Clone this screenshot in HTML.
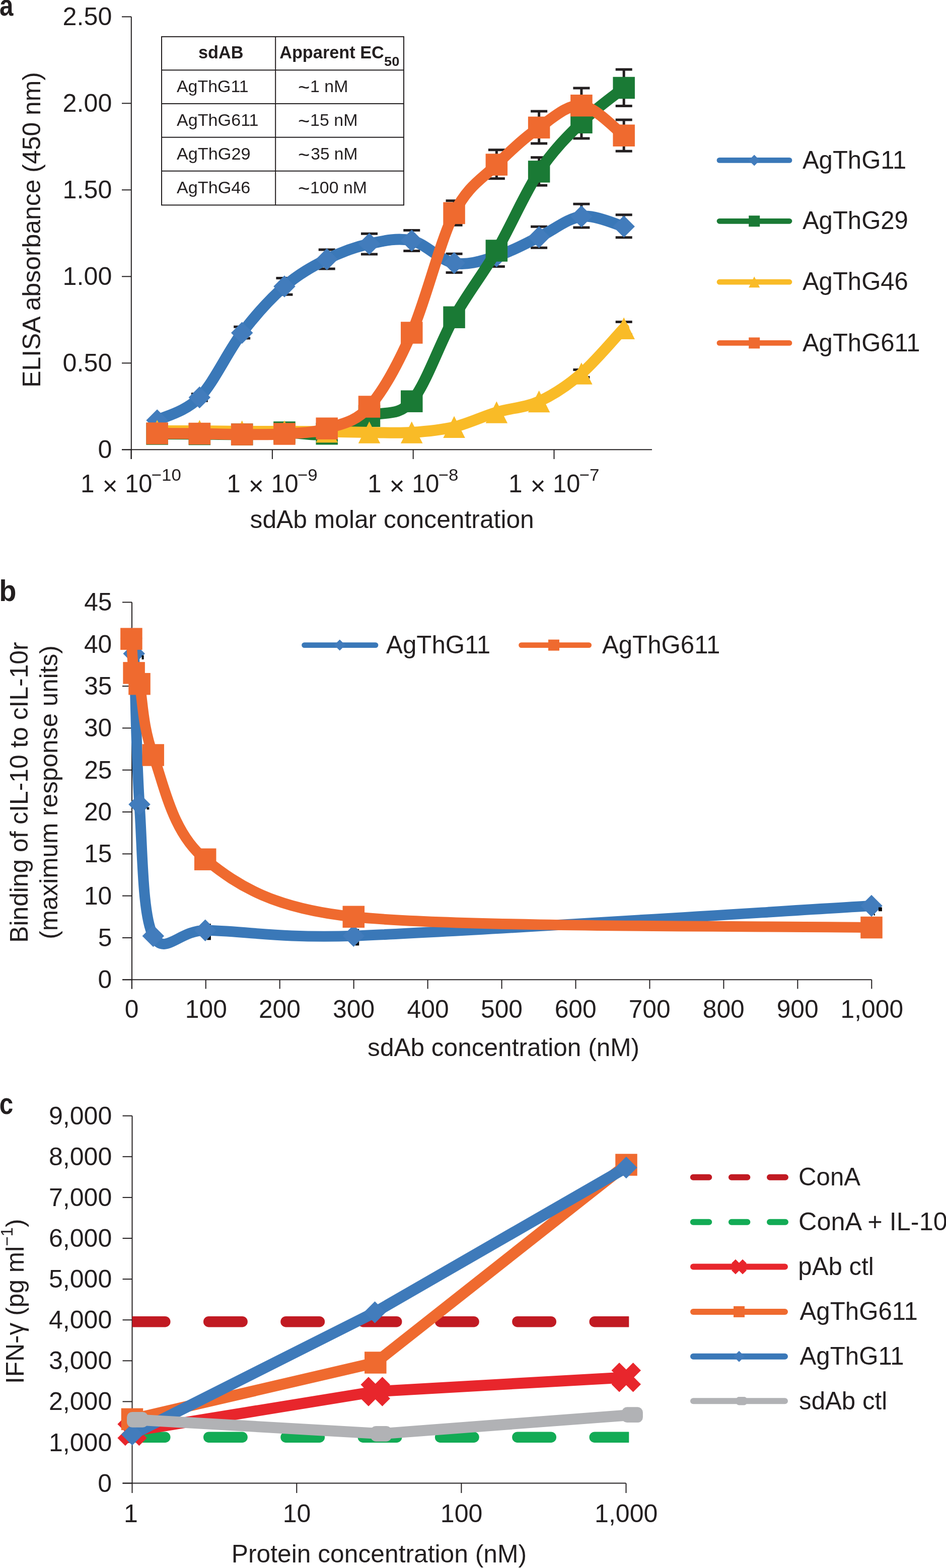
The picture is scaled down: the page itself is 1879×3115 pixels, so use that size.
<!DOCTYPE html><html><head><meta charset="utf-8"><title>Figure</title><style>html,body{margin:0;padding:0;background:#fff;width:1879px;height:3115px;overflow:hidden}svg{display:block}</style></head><body>
<svg width="1879" height="3115" viewBox="0 0 1879 3115" font-family='"Liberation Sans", Arial, Helvetica, sans-serif' fill="#231f20">
<rect width="1879" height="3115" fill="#fff"/>
<text x="-0.88" y="31" font-size="59" font-weight="bold" textLength="27.44" lengthAdjust="spacingAndGlyphs">a</text>
<line x1="260.8" y1="33.3" x2="260.8" y2="912" stroke="#231f20" stroke-width="2"/>
<line x1="242" y1="893.3" x2="1295" y2="893.3" stroke="#231f20" stroke-width="2"/>
<line x1="242" y1="893.3" x2="260.8" y2="893.3" stroke="#231f20" stroke-width="2"/>
<text x="194.47" y="910.3" font-size="49.5" textLength="27.94" lengthAdjust="spacingAndGlyphs">0</text>
<line x1="242" y1="721.3" x2="260.8" y2="721.3" stroke="#231f20" stroke-width="2"/>
<text x="124.64" y="738.3" font-size="49.5" textLength="97.79" lengthAdjust="spacingAndGlyphs">0.50</text>
<line x1="242" y1="549.3" x2="260.8" y2="549.3" stroke="#231f20" stroke-width="2"/>
<text x="124.64" y="566.3" font-size="49.5" textLength="97.79" lengthAdjust="spacingAndGlyphs">1.00</text>
<line x1="242" y1="377.3" x2="260.8" y2="377.3" stroke="#231f20" stroke-width="2"/>
<text x="124.64" y="394.3" font-size="49.5" textLength="97.79" lengthAdjust="spacingAndGlyphs">1.50</text>
<line x1="242" y1="205.3" x2="260.8" y2="205.3" stroke="#231f20" stroke-width="2"/>
<text x="124.64" y="222.3" font-size="49.5" textLength="97.79" lengthAdjust="spacingAndGlyphs">2.00</text>
<line x1="242" y1="33.3" x2="260.8" y2="33.3" stroke="#231f20" stroke-width="2"/>
<text x="124.64" y="50.3" font-size="49.5" textLength="97.79" lengthAdjust="spacingAndGlyphs">2.50</text>
<line x1="260.5" y1="893.3" x2="260.5" y2="912" stroke="#231f20" stroke-width="2"/>
<text x="159.99" y="978" font-size="49.5" textLength="27.53" lengthAdjust="spacingAndGlyphs">1</text>
<text x="203.5" y="982.7" font-size="51.7" textLength="30.19" lengthAdjust="spacingAndGlyphs">×</text>
<text x="248.18" y="978" font-size="49.5" textLength="54.24" lengthAdjust="spacingAndGlyphs">10</text>
<text x="300.72" y="955.4" font-size="34" textLength="59.17" lengthAdjust="spacingAndGlyphs">−10</text>
<line x1="540.9" y1="893.3" x2="540.9" y2="912" stroke="#231f20" stroke-width="2"/>
<text x="450.24" y="978" font-size="49.5" textLength="27.53" lengthAdjust="spacingAndGlyphs">1</text>
<text x="493.75" y="982.7" font-size="51.7" textLength="30.19" lengthAdjust="spacingAndGlyphs">×</text>
<text x="538.44" y="978" font-size="49.5" textLength="54.24" lengthAdjust="spacingAndGlyphs">10</text>
<text x="590.98" y="955.4" font-size="34" textLength="39.77" lengthAdjust="spacingAndGlyphs">−9</text>
<line x1="820.7" y1="893.3" x2="820.7" y2="912" stroke="#231f20" stroke-width="2"/>
<text x="729.96" y="978" font-size="49.5" textLength="27.53" lengthAdjust="spacingAndGlyphs">1</text>
<text x="773.46" y="982.7" font-size="51.7" textLength="30.19" lengthAdjust="spacingAndGlyphs">×</text>
<text x="818.15" y="978" font-size="49.5" textLength="54.24" lengthAdjust="spacingAndGlyphs">10</text>
<text x="870.69" y="955.4" font-size="34" textLength="39.77" lengthAdjust="spacingAndGlyphs">−8</text>
<line x1="1100.5" y1="893.3" x2="1100.5" y2="912" stroke="#231f20" stroke-width="2"/>
<text x="1009.93" y="978" font-size="49.5" textLength="27.53" lengthAdjust="spacingAndGlyphs">1</text>
<text x="1053.44" y="982.7" font-size="51.7" textLength="30.19" lengthAdjust="spacingAndGlyphs">×</text>
<text x="1098.12" y="978" font-size="49.5" textLength="54.24" lengthAdjust="spacingAndGlyphs">10</text>
<text x="1150.67" y="955.4" font-size="34" textLength="39.77" lengthAdjust="spacingAndGlyphs">−7</text>
<text x="496.51" y="1049.2" font-size="49.5" textLength="564.31" lengthAdjust="spacingAndGlyphs">sdAb molar concentration</text>
<text transform="translate(79.6,0) rotate(-90)" x="-769.89" y="0" font-size="49.5" textLength="626.86" lengthAdjust="spacingAndGlyphs">ELISA absorbance (450 nm)</text>
<rect x="321" y="72.9" width="481" height="334.5" fill="none" stroke="#231f20" stroke-width="2"/>
<line x1="547.2" y1="72.9" x2="547.2" y2="407.4" stroke="#231f20" stroke-width="2"/>
<line x1="321" y1="139.2" x2="802" y2="139.2" stroke="#231f20" stroke-width="2"/>
<line x1="321" y1="206.1" x2="802" y2="206.1" stroke="#231f20" stroke-width="2"/>
<line x1="321" y1="272.7" x2="802" y2="272.7" stroke="#231f20" stroke-width="2"/>
<line x1="321" y1="339.8" x2="802" y2="339.8" stroke="#231f20" stroke-width="2"/>
<text x="394" y="116" font-size="34.5" font-weight="bold" textLength="89.59" lengthAdjust="spacingAndGlyphs">sdAB</text>
<text x="555.14" y="115.9" font-size="34.5" font-weight="bold" textLength="207.76" lengthAdjust="spacingAndGlyphs">Apparent EC</text>
<text x="762.98" y="130.8" font-size="26" font-weight="bold" textLength="30.38" lengthAdjust="spacingAndGlyphs">50</text>
<text x="350.9" y="183.3" font-size="33.2" textLength="142.77" lengthAdjust="spacingAndGlyphs">AgThG11</text>
<text x="592.1" y="187.3" font-size="40" textLength="23.36" lengthAdjust="spacingAndGlyphs">~</text>
<text x="616.06" y="183.3" font-size="33.2" textLength="75.36" lengthAdjust="spacingAndGlyphs">1 nM</text>
<text x="350.9" y="249.95" font-size="33.2" textLength="162.72" lengthAdjust="spacingAndGlyphs">AgThG611</text>
<text x="592.1" y="253.95" font-size="40" textLength="23.36" lengthAdjust="spacingAndGlyphs">~</text>
<text x="616.05" y="249.95" font-size="33.2" textLength="94.41" lengthAdjust="spacingAndGlyphs">15 nM</text>
<text x="350.9" y="316.75" font-size="33.2" textLength="146.66" lengthAdjust="spacingAndGlyphs">AgThG29</text>
<text x="592.1" y="320.75" font-size="40" textLength="23.36" lengthAdjust="spacingAndGlyphs">~</text>
<text x="617.26" y="316.75" font-size="33.2" textLength="93.17" lengthAdjust="spacingAndGlyphs">35 nM</text>
<text x="350.9" y="384.1" font-size="33.2" textLength="146.48" lengthAdjust="spacingAndGlyphs">AgThG46</text>
<text x="592.1" y="388.1" font-size="40" textLength="23.36" lengthAdjust="spacingAndGlyphs">~</text>
<text x="616.06" y="384.1" font-size="33.2" textLength="112.86" lengthAdjust="spacingAndGlyphs">100 nM</text>
<line x1="1429" y1="318.4" x2="1568" y2="318.4" stroke="#3a78b8" stroke-width="10.7" stroke-linecap="round"/>
<path d="M1498.2,307.4 L1509.2,318.4 L1498.2,329.4 L1487.2,318.4 Z" fill="#427cbc"/>
<text x="1593.9" y="334.5" font-size="49.5" textLength="206.33" lengthAdjust="spacingAndGlyphs">AgThG11</text>
<line x1="1429" y1="439.3" x2="1568" y2="439.3" stroke="#1a7a35" stroke-width="10.7" stroke-linecap="round"/>
<rect x="1487.2" y="428.3" width="22" height="22" fill="#1a7a35"/>
<text x="1593.9" y="455.4" font-size="49.5" textLength="209.97" lengthAdjust="spacingAndGlyphs">AgThG29</text>
<line x1="1429" y1="560.2" x2="1568" y2="560.2" stroke="#f9bb27" stroke-width="10.7" stroke-linecap="round"/>
<path d="M1498.2,549.2 L1509.2,571.2 L1487.2,571.2 Z" fill="#f9bb27"/>
<text x="1593.9" y="576.3" font-size="49.5" textLength="209.97" lengthAdjust="spacingAndGlyphs">AgThG46</text>
<line x1="1429" y1="681.4" x2="1568" y2="681.4" stroke="#ef6a2f" stroke-width="10.7" stroke-linecap="round"/>
<rect x="1487.2" y="670.4" width="22" height="22" fill="#ef6a2f"/>
<text x="1593.9" y="697.5" font-size="49.5" textLength="233.61" lengthAdjust="spacingAndGlyphs">AgThG611</text>
<path d="M396.38,782.6 V796.3 M379.88,782.6 H412.88 M379.88,796.3 H412.88" stroke="#231f20" stroke-width="5" fill="none"/>
<path d="M480.66,649.2 V672 M464.16,649.2 H497.16 M464.16,672 H497.16" stroke="#231f20" stroke-width="5" fill="none"/>
<path d="M564.94,552.6 V585.3 M548.44,552.6 H581.44 M548.44,585.3 H581.44" stroke="#231f20" stroke-width="5" fill="none"/>
<path d="M649.22,495.9 V534.1 M632.72,495.9 H665.72 M632.72,534.1 H665.72" stroke="#231f20" stroke-width="5" fill="none"/>
<path d="M733.5,464.3 V505.1 M717,464.3 H750 M717,505.1 H750" stroke="#231f20" stroke-width="5" fill="none"/>
<path d="M817.78,457.5 V498.6 M801.28,457.5 H834.28 M801.28,498.6 H834.28" stroke="#231f20" stroke-width="5" fill="none"/>
<path d="M902.06,504.2 V541.6 M885.56,504.2 H918.56 M885.56,541.6 H918.56" stroke="#231f20" stroke-width="5" fill="none"/>
<path d="M986.34,488.6 V529.4 M969.84,488.6 H1002.84 M969.84,529.4 H1002.84" stroke="#231f20" stroke-width="5" fill="none"/>
<path d="M1070.62,450.2 V492.2 M1054.12,450.2 H1087.12 M1054.12,492.2 H1087.12" stroke="#231f20" stroke-width="5" fill="none"/>
<path d="M1154.9,405.2 V452 M1138.4,405.2 H1171.4 M1138.4,452 H1171.4" stroke="#231f20" stroke-width="5" fill="none"/>
<path d="M1239.18,426.8 V471.7 M1222.68,426.8 H1255.68 M1222.68,471.7 H1255.68" stroke="#231f20" stroke-width="5" fill="none"/>
<path d="M312.1,835 C326.15,827.4 368.29,818.35 396.38,789.4 C424.47,760.45 452.57,698.03 480.66,661.3 C508.75,624.57 536.85,593.38 564.94,569 C593.03,544.62 621.13,529.08 649.22,515 C677.31,500.92 705.41,490.67 733.5,484.5 C761.59,478.33 789.69,471.65 817.78,478 C845.87,484.35 873.97,517.43 902.06,522.6 C930.15,527.77 958.25,517.6 986.34,509 C1014.43,500.4 1042.53,484.17 1070.62,471 C1098.71,457.83 1126.81,433.5 1154.9,430 C1182.99,426.5 1225.13,446.67 1239.18,450" fill="none" stroke="#3a78b8" stroke-width="22" stroke-linejoin="round" stroke-linecap="round"/>
<path d="M312.1,813.25 L333.85,835 L312.1,856.75 L290.35,835 Z" fill="#427cbc"/>
<path d="M396.38,767.65 L418.13,789.4 L396.38,811.15 L374.63,789.4 Z" fill="#427cbc"/>
<path d="M480.66,639.55 L502.41,661.3 L480.66,683.05 L458.91,661.3 Z" fill="#427cbc"/>
<path d="M564.94,547.25 L586.69,569 L564.94,590.75 L543.19,569 Z" fill="#427cbc"/>
<path d="M649.22,493.25 L670.97,515 L649.22,536.75 L627.47,515 Z" fill="#427cbc"/>
<path d="M733.5,462.75 L755.25,484.5 L733.5,506.25 L711.75,484.5 Z" fill="#427cbc"/>
<path d="M817.78,456.25 L839.53,478 L817.78,499.75 L796.03,478 Z" fill="#427cbc"/>
<path d="M902.06,500.85 L923.81,522.6 L902.06,544.35 L880.31,522.6 Z" fill="#427cbc"/>
<path d="M986.34,487.25 L1008.09,509 L986.34,530.75 L964.59,509 Z" fill="#427cbc"/>
<path d="M1070.62,449.25 L1092.37,471 L1070.62,492.75 L1048.87,471 Z" fill="#427cbc"/>
<path d="M1154.9,408.25 L1176.65,430 L1154.9,451.75 L1133.15,430 Z" fill="#427cbc"/>
<path d="M1239.18,428.25 L1260.93,450 L1239.18,471.75 L1217.43,450 Z" fill="#427cbc"/>
<path d="M1070.62,312.7 V368.2 M1054.12,312.7 H1087.12 M1054.12,368.2 H1087.12" stroke="#231f20" stroke-width="5" fill="none"/>
<path d="M1154.9,211.6 V275 M1138.4,211.6 H1171.4 M1138.4,275 H1171.4" stroke="#231f20" stroke-width="5" fill="none"/>
<path d="M1239.18,138 V210.5 M1222.68,138 H1255.68 M1222.68,210.5 H1255.68" stroke="#231f20" stroke-width="5" fill="none"/>
<path d="M312.1,862 C326.15,862.08 368.29,862.33 396.38,862.5 C424.47,862.67 452.57,863.58 480.66,863 C508.75,862.42 536.85,859.22 564.94,859 C593.03,858.78 621.13,867.13 649.22,861.7 C677.31,856.27 705.41,837.15 733.5,826.4 C761.59,815.65 789.69,829.88 817.78,797.2 C845.87,764.52 873.97,680.17 902.06,630.3 C930.15,580.43 958.25,546.23 986.34,498 C1014.43,449.77 1042.53,383.35 1070.62,340.9 C1098.71,298.45 1126.81,271.03 1154.9,243.3 C1182.99,215.57 1225.13,185.97 1239.18,174.5" fill="none" stroke="#1a7a35" stroke-width="22" stroke-linejoin="round" stroke-linecap="round"/>
<rect x="290.35" y="840.25" width="43.5" height="43.5" fill="#1a7a35"/>
<rect x="374.63" y="840.75" width="43.5" height="43.5" fill="#1a7a35"/>
<rect x="458.91" y="841.25" width="43.5" height="43.5" fill="#1a7a35"/>
<rect x="543.19" y="837.25" width="43.5" height="43.5" fill="#1a7a35"/>
<rect x="627.47" y="839.95" width="43.5" height="43.5" fill="#1a7a35"/>
<rect x="711.75" y="804.65" width="43.5" height="43.5" fill="#1a7a35"/>
<rect x="796.03" y="775.45" width="43.5" height="43.5" fill="#1a7a35"/>
<rect x="880.31" y="608.55" width="43.5" height="43.5" fill="#1a7a35"/>
<rect x="964.59" y="476.25" width="43.5" height="43.5" fill="#1a7a35"/>
<rect x="1048.87" y="319.15" width="43.5" height="43.5" fill="#1a7a35"/>
<rect x="1133.15" y="221.55" width="43.5" height="43.5" fill="#1a7a35"/>
<rect x="1217.43" y="152.75" width="43.5" height="43.5" fill="#1a7a35"/>
<path d="M1154.9,734.6 V749.4 M1138.4,734.6 H1171.4 M1138.4,749.4 H1171.4" stroke="#231f20" stroke-width="5" fill="none"/>
<path d="M1239.18,639.4 V665 M1222.68,639.4 H1255.68 M1222.68,665 H1255.68" stroke="#231f20" stroke-width="5" fill="none"/>
<path d="M312.1,856 C326.15,856 368.29,855.83 396.38,856 C424.47,856.17 452.57,856.83 480.66,857 C508.75,857.17 536.85,856.92 564.94,857 C593.03,857.08 621.13,857.17 649.22,857.5 C677.31,857.83 705.41,858.75 733.5,859 C761.59,859.25 789.69,860.8 817.78,859 C845.87,857.2 873.97,854.87 902.06,848.2 C930.15,841.53 958.25,827.45 986.34,819 C1014.43,810.55 1042.53,810.33 1070.62,797.5 C1098.71,784.67 1126.81,766.22 1154.9,742 C1182.99,717.78 1225.13,667.17 1239.18,652.2" fill="none" stroke="#f9bb27" stroke-width="22" stroke-linejoin="round" stroke-linecap="round"/>
<path d="M312.1,834.25 L333.85,877.75 L290.35,877.75 Z" fill="#f9bb27"/>
<path d="M396.38,834.25 L418.13,877.75 L374.63,877.75 Z" fill="#f9bb27"/>
<path d="M480.66,835.25 L502.41,878.75 L458.91,878.75 Z" fill="#f9bb27"/>
<path d="M564.94,835.25 L586.69,878.75 L543.19,878.75 Z" fill="#f9bb27"/>
<path d="M649.22,835.75 L670.97,879.25 L627.47,879.25 Z" fill="#f9bb27"/>
<path d="M733.5,837.25 L755.25,880.75 L711.75,880.75 Z" fill="#f9bb27"/>
<path d="M817.78,837.25 L839.53,880.75 L796.03,880.75 Z" fill="#f9bb27"/>
<path d="M902.06,826.45 L923.81,869.95 L880.31,869.95 Z" fill="#f9bb27"/>
<path d="M986.34,797.25 L1008.09,840.75 L964.59,840.75 Z" fill="#f9bb27"/>
<path d="M1070.62,775.75 L1092.37,819.25 L1048.87,819.25 Z" fill="#f9bb27"/>
<path d="M1154.9,720.25 L1176.65,763.75 L1133.15,763.75 Z" fill="#f9bb27"/>
<path d="M1239.18,630.45 L1260.93,673.95 L1217.43,673.95 Z" fill="#f9bb27"/>
<path d="M902.06,398.8 V447.2 M885.56,398.8 H918.56 M885.56,447.2 H918.56" stroke="#231f20" stroke-width="5" fill="none"/>
<path d="M986.34,297.8 V354.7 M969.84,297.8 H1002.84 M969.84,354.7 H1002.84" stroke="#231f20" stroke-width="5" fill="none"/>
<path d="M1070.62,221.1 V285.1 M1054.12,221.1 H1087.12 M1054.12,285.1 H1087.12" stroke="#231f20" stroke-width="5" fill="none"/>
<path d="M1154.9,175 V228 M1138.4,175 H1171.4 M1138.4,228 H1171.4" stroke="#231f20" stroke-width="5" fill="none"/>
<path d="M1239.18,238 V300.2 M1222.68,238 H1255.68 M1222.68,300.2 H1255.68" stroke="#231f20" stroke-width="5" fill="none"/>
<path d="M312.1,861 C326.15,861.08 368.29,861.17 396.38,861.5 C424.47,861.83 452.57,862.92 480.66,863 C508.75,863.08 536.85,863.97 564.94,862 C593.03,860.03 621.13,860.2 649.22,851.2 C677.31,842.2 705.41,839.7 733.5,808 C761.59,776.3 789.69,725.1 817.78,661 C845.87,596.9 873.97,479.05 902.06,423.4 C930.15,367.75 958.25,355.43 986.34,327.1 C1014.43,298.77 1042.53,272.97 1070.62,253.4 C1098.71,233.83 1126.81,207.07 1154.9,209.7 C1182.99,212.33 1225.13,259.28 1239.18,269.2" fill="none" stroke="#ef6a2f" stroke-width="22" stroke-linejoin="round" stroke-linecap="round"/>
<rect x="290.35" y="839.25" width="43.5" height="43.5" fill="#ef6a2f"/>
<rect x="374.63" y="839.75" width="43.5" height="43.5" fill="#ef6a2f"/>
<rect x="458.91" y="841.25" width="43.5" height="43.5" fill="#ef6a2f"/>
<rect x="543.19" y="840.25" width="43.5" height="43.5" fill="#ef6a2f"/>
<rect x="627.47" y="829.45" width="43.5" height="43.5" fill="#ef6a2f"/>
<rect x="711.75" y="786.25" width="43.5" height="43.5" fill="#ef6a2f"/>
<rect x="796.03" y="639.25" width="43.5" height="43.5" fill="#ef6a2f"/>
<rect x="880.31" y="401.65" width="43.5" height="43.5" fill="#ef6a2f"/>
<rect x="964.59" y="305.35" width="43.5" height="43.5" fill="#ef6a2f"/>
<rect x="1048.87" y="231.65" width="43.5" height="43.5" fill="#ef6a2f"/>
<rect x="1133.15" y="187.95" width="43.5" height="43.5" fill="#ef6a2f"/>
<rect x="1217.43" y="247.45" width="43.5" height="43.5" fill="#ef6a2f"/>
<text x="-1.64" y="1194.3" font-size="59" font-weight="bold" textLength="34.23" lengthAdjust="spacingAndGlyphs">b</text>
<line x1="262" y1="1196.46" x2="262" y2="1964.4" stroke="#231f20" stroke-width="2"/>
<line x1="243" y1="1946.3" x2="1731.3" y2="1946.3" stroke="#231f20" stroke-width="2"/>
<line x1="243" y1="1946.3" x2="262" y2="1946.3" stroke="#231f20" stroke-width="2"/>
<text x="194.53" y="1963.3" font-size="49.5" textLength="27.67" lengthAdjust="spacingAndGlyphs">0</text>
<line x1="243" y1="1862.98" x2="262" y2="1862.98" stroke="#231f20" stroke-width="2"/>
<text x="194.78" y="1879.98" font-size="49.5" textLength="27.67" lengthAdjust="spacingAndGlyphs">5</text>
<line x1="243" y1="1779.67" x2="262" y2="1779.67" stroke="#231f20" stroke-width="2"/>
<text x="166.92" y="1796.67" font-size="49.5" textLength="55.34" lengthAdjust="spacingAndGlyphs">10</text>
<line x1="243" y1="1696.36" x2="262" y2="1696.36" stroke="#231f20" stroke-width="2"/>
<text x="167.17" y="1713.36" font-size="49.5" textLength="55.34" lengthAdjust="spacingAndGlyphs">15</text>
<line x1="243" y1="1613.04" x2="262" y2="1613.04" stroke="#231f20" stroke-width="2"/>
<text x="166.92" y="1630.04" font-size="49.5" textLength="55.34" lengthAdjust="spacingAndGlyphs">20</text>
<line x1="243" y1="1529.72" x2="262" y2="1529.72" stroke="#231f20" stroke-width="2"/>
<text x="167.17" y="1546.72" font-size="49.5" textLength="55.34" lengthAdjust="spacingAndGlyphs">25</text>
<line x1="243" y1="1446.41" x2="262" y2="1446.41" stroke="#231f20" stroke-width="2"/>
<text x="166.92" y="1463.41" font-size="49.5" textLength="55.34" lengthAdjust="spacingAndGlyphs">30</text>
<line x1="243" y1="1363.09" x2="262" y2="1363.09" stroke="#231f20" stroke-width="2"/>
<text x="167.17" y="1380.09" font-size="49.5" textLength="55.34" lengthAdjust="spacingAndGlyphs">35</text>
<line x1="243" y1="1279.78" x2="262" y2="1279.78" stroke="#231f20" stroke-width="2"/>
<text x="166.92" y="1296.78" font-size="49.5" textLength="55.34" lengthAdjust="spacingAndGlyphs">40</text>
<line x1="243" y1="1196.46" x2="262" y2="1196.46" stroke="#231f20" stroke-width="2"/>
<text x="167.17" y="1213.46" font-size="49.5" textLength="55.34" lengthAdjust="spacingAndGlyphs">45</text>
<line x1="261.8" y1="1946.3" x2="261.8" y2="1964.4" stroke="#231f20" stroke-width="2"/>
<text x="247.87" y="2021.8" font-size="49.5" textLength="27.67" lengthAdjust="spacingAndGlyphs">0</text>
<line x1="408.75" y1="1946.3" x2="408.75" y2="1964.4" stroke="#231f20" stroke-width="2"/>
<text x="367.84" y="2021.8" font-size="49.5" textLength="83" lengthAdjust="spacingAndGlyphs">100</text>
<line x1="555.7" y1="1946.3" x2="555.7" y2="1964.4" stroke="#231f20" stroke-width="2"/>
<text x="513.91" y="2021.8" font-size="49.5" textLength="83" lengthAdjust="spacingAndGlyphs">200</text>
<line x1="702.65" y1="1946.3" x2="702.65" y2="1964.4" stroke="#231f20" stroke-width="2"/>
<text x="661.11" y="2021.8" font-size="49.5" textLength="83" lengthAdjust="spacingAndGlyphs">300</text>
<line x1="849.6" y1="1946.3" x2="849.6" y2="1964.4" stroke="#231f20" stroke-width="2"/>
<text x="808.56" y="2021.8" font-size="49.5" textLength="83" lengthAdjust="spacingAndGlyphs">400</text>
<line x1="996.55" y1="1946.3" x2="996.55" y2="1964.4" stroke="#231f20" stroke-width="2"/>
<text x="955.01" y="2021.8" font-size="49.5" textLength="83" lengthAdjust="spacingAndGlyphs">500</text>
<line x1="1143.5" y1="1946.3" x2="1143.5" y2="1964.4" stroke="#231f20" stroke-width="2"/>
<text x="1101.71" y="2021.8" font-size="49.5" textLength="83" lengthAdjust="spacingAndGlyphs">600</text>
<line x1="1290.45" y1="1946.3" x2="1290.45" y2="1964.4" stroke="#231f20" stroke-width="2"/>
<text x="1248.66" y="2021.8" font-size="49.5" textLength="83" lengthAdjust="spacingAndGlyphs">700</text>
<line x1="1437.4" y1="1946.3" x2="1437.4" y2="1964.4" stroke="#231f20" stroke-width="2"/>
<text x="1395.74" y="2021.8" font-size="49.5" textLength="83" lengthAdjust="spacingAndGlyphs">800</text>
<line x1="1584.35" y1="1946.3" x2="1584.35" y2="1964.4" stroke="#231f20" stroke-width="2"/>
<text x="1542.69" y="2021.8" font-size="49.5" textLength="83" lengthAdjust="spacingAndGlyphs">900</text>
<line x1="1731.3" y1="1946.3" x2="1731.3" y2="1964.4" stroke="#231f20" stroke-width="2"/>
<text x="1669.62" y="2021.8" font-size="49.5" textLength="124.49" lengthAdjust="spacingAndGlyphs">1,000</text>
<text x="730.11" y="2097.8" font-size="49.5" textLength="539.88" lengthAdjust="spacingAndGlyphs">sdAb concentration (nM)</text>
<text transform="translate(54.5,0) rotate(-90)" x="-1872.78" y="0" font-size="49.5" textLength="597.33" lengthAdjust="spacingAndGlyphs">Binding of cIL-10 to cIL-10r</text>
<text transform="translate(114.3,0) rotate(-90)" x="-1865.87" y="0" font-size="49.5" textLength="583.73" lengthAdjust="spacingAndGlyphs">(maximum response units)</text>
<line x1="604.5" y1="1281.6" x2="746" y2="1281.6" stroke="#3a78b8" stroke-width="10.7" stroke-linecap="round"/>
<path d="M674.8,1270.6 L685.8,1281.6 L674.8,1292.6 L663.8,1281.6 Z" fill="#427cbc"/>
<text x="767.1" y="1298.2" font-size="49.5" textLength="207.17" lengthAdjust="spacingAndGlyphs">AgThG11</text>
<line x1="1035.5" y1="1281.6" x2="1169.7" y2="1281.6" stroke="#ef6a2f" stroke-width="10.7" stroke-linecap="round"/>
<rect x="1089" y="1270.6" width="22" height="22" fill="#ef6a2f"/>
<text x="1195.9" y="1298.2" font-size="49.5" textLength="234.43" lengthAdjust="spacingAndGlyphs">AgThG611</text>
<rect x="411.3" y="1835" width="7.6" height="32.4" fill="#0a0a0a"/>
<rect x="705.7" y="1845.6" width="7.5" height="32.8" fill="#0a0a0a"/>
<path d="M261,1268 C261.87,1273.1 265.45,1283.1 266.2,1298.6 C268.87,1353.6 270.65,1504.53 277,1598 C283.35,1691.47 282.52,1817.7 304.3,1859.4 C326.08,1901.1 355.7,1848.23 407.7,1848.2 C474.03,1848.17 555,1864.61 702.3,1859.2 C922.85,1851.1 1559.55,1809.53 1731,1799.6" fill="none" stroke="#3a78b8" stroke-width="21" stroke-linejoin="round" stroke-linecap="round"/>
<path d="M261,1246.25 L282.75,1268 L261,1289.75 L239.25,1268 Z" fill="#427cbc"/>
<path d="M266.2,1276.85 L287.95,1298.6 L266.2,1320.35 L244.45,1298.6 Z" fill="#427cbc"/>
<path d="M277,1576.25 L298.75,1598 L277,1619.75 L255.25,1598 Z" fill="#427cbc"/>
<path d="M304.3,1837.65 L326.05,1859.4 L304.3,1881.15 L282.55,1859.4 Z" fill="#427cbc"/>
<path d="M407.7,1826.45 L429.45,1848.2 L407.7,1869.95 L385.95,1848.2 Z" fill="#427cbc"/>
<path d="M702.3,1837.45 L724.05,1859.2 L702.3,1880.95 L680.55,1859.2 Z" fill="#427cbc"/>
<path d="M1731,1777.85 L1752.75,1799.6 L1731,1821.35 L1709.25,1799.6 Z" fill="#427cbc"/>
<rect x="281.6" y="1302" width="4" height="8" fill="#0a0a0a"/>
<rect x="291.6" y="1603.6" width="4.7" height="4.7" fill="#0a0a0a"/>
<rect x="1744.9" y="1802.5" width="7" height="7.8" fill="#0a0a0a"/>
<rect x="1735.8" y="1815.5" width="2.1" height="3.2" fill="#0a0a0a"/>
<path d="M260.9,1269.2 C261.77,1280.48 263.42,1321.98 266.1,1336.9 C268.26,1348.89 274.23,1346.83 277,1358.7 C283.35,1385.88 282.42,1441.92 304.2,1500 C325.98,1558.08 341.35,1653.65 407.7,1707.2 C474.05,1760.75 545.16,1805.22 702.3,1821.3 C922.85,1843.87 1559.55,1839.05 1731,1842.6" fill="none" stroke="#ef6a2f" stroke-width="21" stroke-linejoin="round" stroke-linecap="round"/>
<rect x="239.15" y="1247.45" width="43.5" height="43.5" fill="#ef6a2f"/>
<rect x="244.35" y="1315.15" width="43.5" height="43.5" fill="#ef6a2f"/>
<rect x="255.25" y="1336.95" width="43.5" height="43.5" fill="#ef6a2f"/>
<rect x="282.45" y="1478.25" width="43.5" height="43.5" fill="#ef6a2f"/>
<rect x="385.95" y="1685.45" width="43.5" height="43.5" fill="#ef6a2f"/>
<rect x="680.55" y="1799.55" width="43.5" height="43.5" fill="#ef6a2f"/>
<rect x="1709.25" y="1820.85" width="43.5" height="43.5" fill="#ef6a2f"/>
<text x="-1.18" y="2213.3" font-size="59" font-weight="bold" textLength="27.52" lengthAdjust="spacingAndGlyphs">c</text>
<line x1="262.5" y1="2216.7" x2="262.5" y2="2966" stroke="#231f20" stroke-width="2"/>
<line x1="243.5" y1="2946.6" x2="1243.3" y2="2946.6" stroke="#231f20" stroke-width="2"/>
<line x1="243.5" y1="2946.6" x2="262.5" y2="2946.6" stroke="#231f20" stroke-width="2"/>
<text x="194.35" y="2963.6" font-size="49.5" textLength="27.86" lengthAdjust="spacingAndGlyphs">0</text>
<line x1="243.5" y1="2865.5" x2="262.5" y2="2865.5" stroke="#231f20" stroke-width="2"/>
<text x="96.92" y="2882.5" font-size="49.5" textLength="125.36" lengthAdjust="spacingAndGlyphs">1,000</text>
<line x1="243.5" y1="2784.4" x2="262.5" y2="2784.4" stroke="#231f20" stroke-width="2"/>
<text x="96.92" y="2801.4" font-size="49.5" textLength="125.36" lengthAdjust="spacingAndGlyphs">2,000</text>
<line x1="243.5" y1="2703.3" x2="262.5" y2="2703.3" stroke="#231f20" stroke-width="2"/>
<text x="96.92" y="2720.3" font-size="49.5" textLength="125.36" lengthAdjust="spacingAndGlyphs">3,000</text>
<line x1="243.5" y1="2622.2" x2="262.5" y2="2622.2" stroke="#231f20" stroke-width="2"/>
<text x="96.92" y="2639.2" font-size="49.5" textLength="125.36" lengthAdjust="spacingAndGlyphs">4,000</text>
<line x1="243.5" y1="2541.1" x2="262.5" y2="2541.1" stroke="#231f20" stroke-width="2"/>
<text x="96.92" y="2558.1" font-size="49.5" textLength="125.36" lengthAdjust="spacingAndGlyphs">5,000</text>
<line x1="243.5" y1="2460" x2="262.5" y2="2460" stroke="#231f20" stroke-width="2"/>
<text x="96.92" y="2477" font-size="49.5" textLength="125.36" lengthAdjust="spacingAndGlyphs">6,000</text>
<line x1="243.5" y1="2378.9" x2="262.5" y2="2378.9" stroke="#231f20" stroke-width="2"/>
<text x="96.92" y="2395.9" font-size="49.5" textLength="125.36" lengthAdjust="spacingAndGlyphs">7,000</text>
<line x1="243.5" y1="2297.8" x2="262.5" y2="2297.8" stroke="#231f20" stroke-width="2"/>
<text x="96.92" y="2314.8" font-size="49.5" textLength="125.36" lengthAdjust="spacingAndGlyphs">8,000</text>
<line x1="243.5" y1="2216.7" x2="262.5" y2="2216.7" stroke="#231f20" stroke-width="2"/>
<text x="96.92" y="2233.7" font-size="49.5" textLength="125.36" lengthAdjust="spacingAndGlyphs">9,000</text>
<text x="245.95" y="3023.5" font-size="49.5" textLength="27.86" lengthAdjust="spacingAndGlyphs">1</text>
<line x1="589.3" y1="2946.6" x2="589.3" y2="2966" stroke="#231f20" stroke-width="2"/>
<text x="561.7" y="3023.5" font-size="49.5" textLength="55.72" lengthAdjust="spacingAndGlyphs">10</text>
<line x1="916.4" y1="2946.6" x2="916.4" y2="2966" stroke="#231f20" stroke-width="2"/>
<text x="874.89" y="3023.5" font-size="49.5" textLength="83.58" lengthAdjust="spacingAndGlyphs">100</text>
<line x1="1243.5" y1="2946.6" x2="1243.5" y2="2966" stroke="#231f20" stroke-width="2"/>
<text x="1181.08" y="3023.5" font-size="49.5" textLength="125.36" lengthAdjust="spacingAndGlyphs">1,000</text>
<text x="459.82" y="3104.2" font-size="49.5" textLength="586.14" lengthAdjust="spacingAndGlyphs">Protein concentration (nM)</text>
<text transform="translate(47.3,0) rotate(-90)" x="-2748.97" y="0" font-size="49.5" textLength="327.5" lengthAdjust="spacingAndGlyphs">IFN-γ (pg ml<tspan dy="-22.6" font-size="33">−1</tspan><tspan dy="22.6">)</tspan></text>
<defs><clipPath id="cp"><rect x="262.6" y="2200" width="986.7" height="800"/></clipPath></defs>
<line x1="261.4" y1="2625.7" x2="1260" y2="2625.7" stroke="#c11a22" stroke-width="21.5" stroke-linecap="round" stroke-dasharray="66.4 86.9" clip-path="url(#cp)"/>
<line x1="261.4" y1="2855.2" x2="1260" y2="2855.2" stroke="#12ab55" stroke-width="21.5" stroke-linecap="round" stroke-dasharray="66.4 86.9" clip-path="url(#cp)"/>
<path d="M262.6,2843 L745.7,2764.4 L1243.8,2736.2" fill="none" stroke="#e8262c" stroke-width="22" stroke-linejoin="miter"/>
<path d="M241.1,2821.5 L284.1,2864.5 M284.1,2821.5 L241.1,2864.5" stroke="#e8262c" stroke-width="21.93" fill="none"/>
<path d="M724.2,2742.9 L767.2,2785.9 M767.2,2742.9 L724.2,2785.9" stroke="#e8262c" stroke-width="21.93" fill="none"/>
<path d="M1222.3,2714.7 L1265.3,2757.7 M1265.3,2714.7 L1222.3,2757.7" stroke="#e8262c" stroke-width="21.93" fill="none"/>
<path d="M262.5,2819.4 L745.8,2707 L1244,2314" fill="none" stroke="#ef6a2f" stroke-width="22" stroke-linejoin="miter"/>
<rect x="240.75" y="2797.65" width="43.5" height="43.5" fill="#ef6a2f"/>
<rect x="724.05" y="2685.25" width="43.5" height="43.5" fill="#ef6a2f"/>
<rect x="1222.25" y="2292.25" width="43.5" height="43.5" fill="#ef6a2f"/>
<path d="M262.6,2849.7 L744.6,2607 L1243.8,2319.5" fill="none" stroke="#3e7aba" stroke-width="22" stroke-linejoin="miter"/>
<path d="M262.6,2827.95 L284.35,2849.7 L262.6,2871.45 L240.85,2849.7 Z" fill="#427cbc"/>
<path d="M744.6,2585.25 L766.35,2607 L744.6,2628.75 L722.85,2607 Z" fill="#427cbc"/>
<path d="M1243.8,2297.75 L1265.55,2319.5 L1243.8,2341.25 L1222.05,2319.5 Z" fill="#427cbc"/>
<path d="M273,2820.4 L757,2848.3 L1255.9,2810.7" fill="none" stroke="#b1b2b5" stroke-width="22" stroke-linejoin="miter"/>
<rect x="252" y="2805" width="42" height="30.8" rx="10.5" fill="#b1b2b5"/>
<rect x="736" y="2832.9" width="42" height="30.8" rx="10.5" fill="#b1b2b5"/>
<rect x="1234.9" y="2795.3" width="42" height="30.8" rx="10.5" fill="#b1b2b5"/>
<line x1="1376.8" y1="2338.8" x2="1560" y2="2338.8" stroke="#c11a22" stroke-width="12" stroke-linecap="round" stroke-dasharray="31.5 44.6"/>
<line x1="1376.8" y1="2427.7" x2="1560" y2="2427.7" stroke="#12ab55" stroke-width="12" stroke-linecap="round" stroke-dasharray="31.5 44.6"/>
<line x1="1377" y1="2516.6" x2="1559" y2="2516.6" stroke="#e8262c" stroke-width="12" stroke-linecap="round"/>
<path d="M1457,2505.6 L1479,2527.6 M1479,2505.6 L1457,2527.6" stroke="#e8262c" stroke-width="11.22" fill="none"/>
<line x1="1377" y1="2605.9" x2="1559" y2="2605.9" stroke="#ef6a2f" stroke-width="12" stroke-linecap="round"/>
<rect x="1457" y="2594.9" width="22" height="22" fill="#ef6a2f"/>
<line x1="1377" y1="2694.7" x2="1559" y2="2694.7" stroke="#3a78b8" stroke-width="12" stroke-linecap="round"/>
<path d="M1468,2683.7 L1479,2694.7 L1468,2705.7 L1457,2694.7 Z" fill="#427cbc"/>
<line x1="1377" y1="2783.2" x2="1559" y2="2783.2" stroke="#b1b2b5" stroke-width="12" stroke-linecap="round"/>
<rect x="1462.6" y="2775" width="20.7" height="16.4" rx="5" fill="#b1b2b5"/>
<text x="1586.04" y="2355.3" font-size="49.5" textLength="123.14" lengthAdjust="spacingAndGlyphs">ConA</text>
<text x="1585.98" y="2444.2" font-size="49.5" textLength="295.81" lengthAdjust="spacingAndGlyphs">ConA + IL-10</text>
<text x="1585.3" y="2533.1" font-size="49.5" textLength="150.49" lengthAdjust="spacingAndGlyphs">pAb ctl</text>
<text x="1588.5" y="2622.4" font-size="49.5" textLength="234.43" lengthAdjust="spacingAndGlyphs">AgThG611</text>
<text x="1588.5" y="2711.2" font-size="49.5" textLength="207.05" lengthAdjust="spacingAndGlyphs">AgThG11</text>
<text x="1587.02" y="2799.7" font-size="49.5" textLength="175.11" lengthAdjust="spacingAndGlyphs">sdAb ctl</text>
</svg></body></html>
